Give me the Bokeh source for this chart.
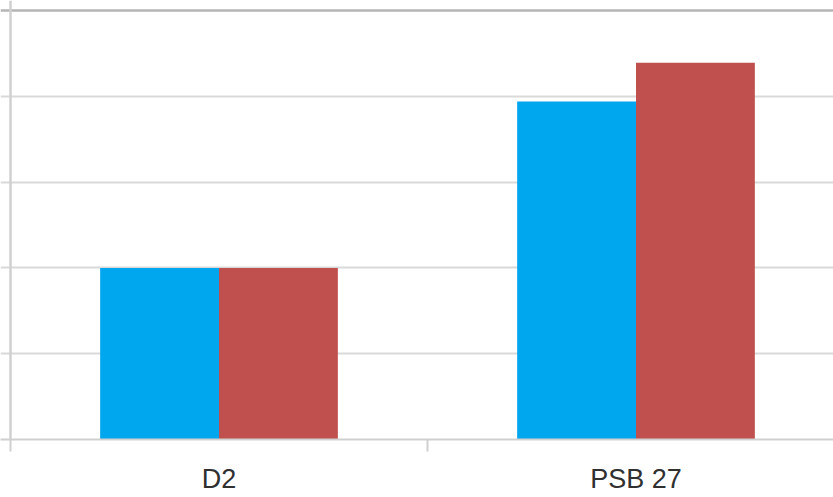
from bokeh.plotting import figure
from bokeh.models import Range1d, FixedTicker, Span, ColumnDataSource
from bokeh.embed import file_html
from bokeh.resources import INLINE
import numpy as np

categories = ["D2", "PSB 27"]
series_blue = [2.0, 3.94]
series_red = [2.0, 4.39]
y_gridlines = [1, 2, 3, 4]
y_max = 5

BLUE = "#00A6EE"
RED = "#C0504D"

W, H = 833, 497
px_per_cat = 417.0
left_pad_px = 10
top_pad_px = 10
bottom_px = 58
frame_h = H - bottom_px
ppu = (frame_h - top_pad_px) / y_max

x_start = -left_pad_px / px_per_cat
x_end = x_start + W / px_per_cat
y_end = y_max + top_pad_px / ppu

p = figure(width=W, height=H, output_backend="svg", toolbar_location=None,
           x_range=Range1d(x_start, x_end), y_range=Range1d(0, y_end),
           min_border_left=0, min_border_right=0, min_border_top=0,
           min_border_bottom=bottom_px)
p.outline_line_color = None
p.background_fill_color = "white"
p.border_fill_color = "white"

centers = np.arange(len(categories)) + 0.5
bw = 0.285
src = ColumnDataSource(dict(xb=centers - bw / 2, xr=centers + bw / 2,
                            blue=series_blue, red=series_red))
p.vbar(x="xb", top="blue", bottom=0, width=bw, source=src,
       fill_color=BLUE, line_color=None)
p.vbar(x="xr", top="red", bottom=0, width=bw, source=src,
       fill_color=RED, line_color=None)

p.yaxis.visible = False
p.xgrid.grid_line_color = None
p.ygrid.ticker = FixedTicker(ticks=y_gridlines)
p.ygrid.grid_line_color = "#d9d9d9"
p.ygrid.grid_line_width = 2

p.add_layout(Span(location=y_max, dimension="width", line_color="#b5b5b5", line_width=2.5))
p.add_layout(Span(location=0, dimension="height", line_color="#d0d0d0", line_width=2.5))

ax = p.xaxis[0]
ax.ticker = FixedTicker(ticks=list(centers), minor_ticks=list(range(len(categories) + 1)))
ax.major_label_overrides = {float(c): name for c, name in zip(centers, categories)}
ax.axis_line_color = "#d0d0d0"
ax.axis_line_width = 2
ax.major_tick_line_color = None
ax.major_tick_out = 0
ax.major_tick_in = 0
ax.minor_tick_line_color = "#d0d0d0"
ax.minor_tick_line_width = 2
ax.minor_tick_out = 12
ax.minor_tick_in = 0
ax.major_label_text_font = "Liberation Sans"
ax.major_label_text_font_size = "27px"
ax.major_label_text_color = "#303030"
ax.major_label_standoff = 12

open("out.html", "w").write(file_html(p, INLINE))
